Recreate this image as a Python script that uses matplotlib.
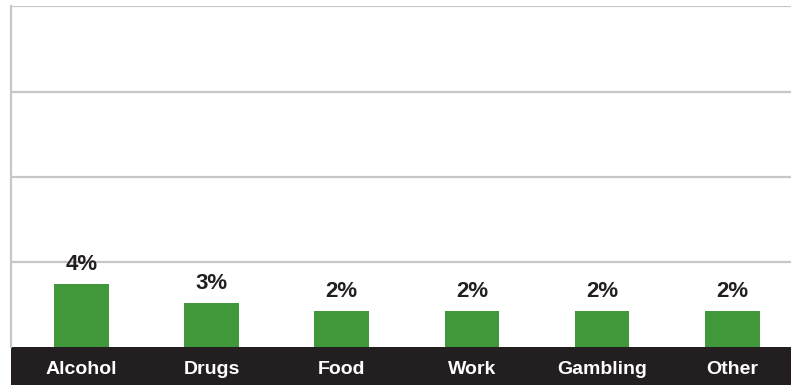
import matplotlib.pyplot as plt
from matplotlib.patches import Rectangle

categories = ['Alcohol', 'Drugs', 'Food', 'Work', 'Gambling', 'Other']
shares = [3.7, 2.6, 2.1, 2.1, 2.1, 2.1]   # percent
grid_levels = [5, 10, 15, 20]

green = '#41983b'
dark = '#231f20'
grey = '#c7c7c9'

plt.rcParams['font.family'] = ['Liberation Sans', 'DejaVu Sans']

fig = plt.figure(figsize=(7.91, 3.85), dpi=100)
ax = fig.add_axes([11/791, 38/385, 1 - 11/791, 341.5/385])

x = range(len(categories))
ax.bar(x, shares, width=0.42, color=green, zorder=3)

for xi, v in zip(x, shares):
    ax.annotate('%d%%' % round(v), (xi, v), xytext=(0, 10), textcoords='offset points',
                ha='center', va='baseline', fontsize=16, fontweight='bold', color=dark)

ax.set_xlim(-0.540, 5.451)
ax.set_ylim(0, 20.05)
ax.set_yticks(grid_levels)
ax.set_yticklabels([])
ax.yaxis.grid(True, color=grey, linewidth=1.6, zorder=0)
ax.tick_params(axis='y', length=0)

ax.set_xticks(list(x))
ax.set_xticklabels(categories, fontsize=14, fontweight='bold', color='white')
ax.tick_params(axis='x', length=0, pad=10)

for s in ['top', 'right', 'bottom']:
    ax.spines[s].set_visible(False)
ax.spines['left'].set_color(grey)
ax.spines['left'].set_linewidth(1.6)

# dark strip behind the category names
fig.patches.append(Rectangle((11/791, 0), 1, 38/385, transform=fig.transFigure,
                             facecolor=dark, edgecolor='none', zorder=-1))

fig.savefig('out.png', dpi=100)
